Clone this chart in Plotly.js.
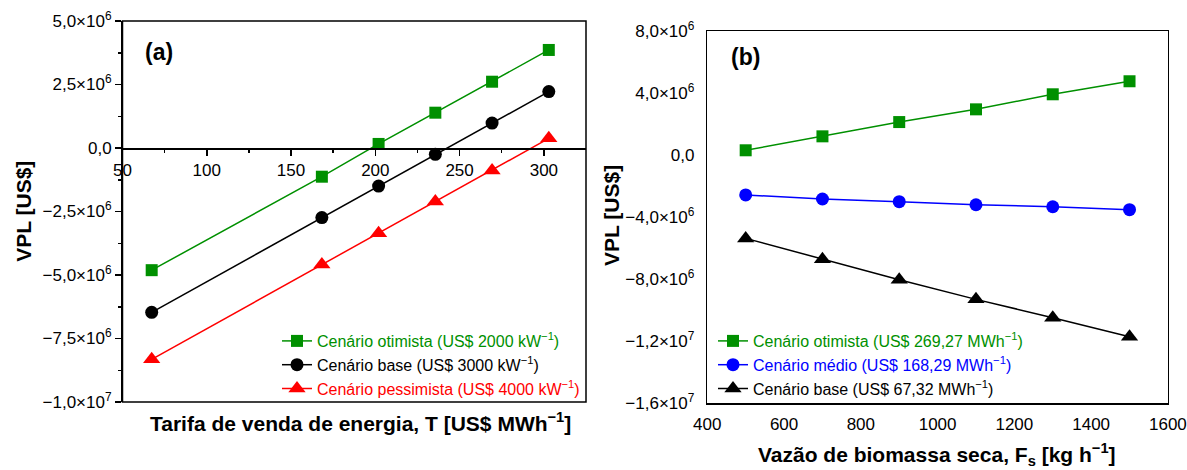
<!DOCTYPE html>
<html>
<head>
<meta charset="utf-8">
<script src="https://cdn.plot.ly/plotly-3.0.1.min.js"></script>
<style>html,body{margin:0;padding:0;background:#fff;}#chart{width:1187px;height:470px;}</style>
</head>
<body>
<div id="chart"></div>
<script>
// ---- Data: panel (a) ----
const tarifa = [67.32, 168.29, 201.95, 235.61, 269.27, 302.93];
const vplOtimistaA = [-4.81e6, -1.13e6, 0.16e6, 1.39e6, 2.61e6, 3.86e6];
const vplBaseA = [-6.47e6, -2.74e6, -1.50e6, -0.25e6, 0.98e6, 2.22e6];
const vplPessimistaA = [-8.32e6, -4.59e6, -3.36e6, -2.11e6, -0.89e6, 0.38e6];
const namesA = ["Cenário otimista (US$ 2000 kW<sup>−1</sup>)", "Cenário base (US$ 3000 kW<sup>−1</sup>)", "Cenário pessimista (US$ 4000 kW<sup>−1</sup>)"];

// ---- Data: panel (b) ----
const vazao = [500, 700, 900, 1100, 1300, 1500];
const vplOtimistaB = [0.31e6, 1.21e6, 2.13e6, 2.95e6, 3.92e6, 4.76e6];
const vplMedioB = [-2.57e6, -2.83e6, -3.00e6, -3.20e6, -3.33e6, -3.52e6];
const vplBaseB = [-5.37e6, -6.72e6, -8.03e6, -9.30e6, -10.48e6, -11.71e6];
const namesB = ["Cenário otimista (US$ 269,27 MWh<sup>−1</sup>)", "Cenário médio (US$ 168,29 MWh<sup>−1</sup>)", "Cenário base (US$ 67,32 MWh<sup>−1</sup>)"];

// ---- Ticks ----
const xTicksA = [50, 100, 150, 200, 250, 300];
const xTickTextA = ["50", "100", "150", "200", "250", "300"];
const xMinorA = [75, 125, 175, 225, 275];
const yTicksA = [-1e7, -7.5e6, -5e6, -2.5e6, 0, 2.5e6, 5e6];
const yTickTextA = ["−1,0×10<sup>7</sup>", "−7,5×10<sup>6</sup>", "−5,0×10<sup>6</sup>", "−2,5×10<sup>6</sup>", "0,0", "2,5×10<sup>6</sup>", "5,0×10<sup>6</sup>"];
const yMinorA = [-8.75e6, -6.25e6, -3.75e6, -1.25e6, 1.25e6, 3.75e6];
const xTicksB = [400, 600, 800, 1000, 1200, 1400, 1600];
const xTickTextB = ["400", "600", "800", "1000", "1200", "1400", "1600"];
const yTicksB = [-1.6e7, -1.2e7, -8e6, -4e6, 0, 4e6, 8e6];
const yTickTextB = ["−1,6×10<sup>7</sup>", "−1,2×10<sup>7</sup>", "−8,0×10<sup>6</sup>", "−4,0×10<sup>6</sup>", "0,0", "4,0×10<sup>6</sup>", "8,0×10<sup>6</sup>"];

const GREEN = "#009000", RED = "#ff0000", BLUE = "#0000ff", BLACK = "#000000";
const FONT = "Liberation Sans, Arial, sans-serif";
const W = 1187, H = 470;

function colored(name, c) { return '<span style="color:' + c + '">' + name + '</span>'; }
function tr(x, y, name, color, symbol, size, xa, ya, leg, grp) {
  return {
    x: x, y: y, type: "scatter", mode: "lines+markers",
    name: colored(name, color),
    line: {color: color, width: 1.5},
    marker: {color: color, symbol: symbol, size: size},
    xaxis: xa, yaxis: ya, legend: leg, legendgroup: grp,
    cliponaxis: false
  };
}

const data = [
  tr(tarifa, vplOtimistaA, namesA[0], GREEN, "square", 12, "x", "y", "legend", "a1"),
  tr(tarifa, vplBaseA, namesA[1], BLACK, "circle", 13, "x", "y", "legend", "a2"),
  tr(tarifa, vplPessimistaA, namesA[2], RED, "triangle-up", 15, "x", "y", "legend", "a3"),
  tr(vazao, vplOtimistaB, namesB[0], GREEN, "square", 12, "x2", "y2", "legend2", "b1"),
  tr(vazao, vplMedioB, namesB[1], BLUE, "circle", 13, "x2", "y2", "legend2", "b2"),
  tr(vazao, vplBaseB, namesB[2], BLACK, "triangle-up", 15, "x2", "y2", "legend2", "b3")
];

const yDomA = [1 - 402 / H, 1 - 21 / H];
const yRangeA = [-1e7, 5e6];
const zeroPosA = yDomA[0] + (0 - yRangeA[0]) / (yRangeA[1] - yRangeA[0]) * (yDomA[1] - yDomA[0]);

const tickFont = {family: FONT, size: 17, color: "#000"};
const layout = {
  width: W, height: H,
  margin: {l: 0, r: 0, t: 0, b: 0},
  paper_bgcolor: "#fff", plot_bgcolor: "#fff",
  showlegend: true,
  font: {family: FONT, color: "#000"},
  xaxis: {
    domain: [122.5 / W, 586 / W], range: [50, 325], anchor: "free", position: zeroPosA,
    showline: true, linecolor: "#000", linewidth: 1.5, showgrid: false, zeroline: false,
    tickmode: "array", tickvals: xTicksA, ticktext: xTickTextA,
    ticks: "outside", ticklen: 6, tickwidth: 1.5, tickcolor: "#000",
    minor: {tickmode: "array", tickvals: xMinorA, ticks: "outside", ticklen: 3, tickwidth: 1.5, tickcolor: "#000", showgrid: false},
    tickfont: tickFont
  },
  yaxis: {
    domain: yDomA, range: yRangeA, anchor: "x",
    showline: true, linecolor: "#000", linewidth: 1.5, showgrid: false, zeroline: false,
    tickmode: "array", tickvals: yTicksA, ticktext: yTickTextA,
    ticks: "outside", ticklen: 6, tickwidth: 1.5, tickcolor: "#000",
    minor: {tickmode: "array", tickvals: yMinorA, ticks: "outside", ticklen: 3, tickwidth: 1.5, tickcolor: "#000", showgrid: false},
    tickfont: tickFont
  },
  xaxis2: {
    domain: [707.3 / W, 1167.9 / W], range: [400, 1600], anchor: "y2",
    showline: true, mirror: true, linecolor: "#000", linewidth: 1.5, showgrid: false, zeroline: false,
    tickmode: "array", tickvals: xTicksB, ticktext: xTickTextB,
    ticks: "", ticklabelstandoff: 5, tickfont: tickFont
  },
  yaxis2: {
    domain: [1 - 403.3 / H, 1 - 31 / H], range: [-1.6e7, 8e6], anchor: "x2",
    showline: true, mirror: true, linecolor: "#000", linewidth: 1.5, showgrid: false, zeroline: false,
    tickmode: "array", tickvals: yTicksB, ticktext: yTickTextB,
    ticks: "", ticklabelstandoff: 8, tickfont: tickFont
  },
  shapes: [
    {type: "rect", xref: "x domain", yref: "y domain", x0: 0, x1: 1, y0: 0, y1: 1, line: {color: "#000", width: 1.5}, layer: "below"}
  ],
  legend: {
    x: 277 / W, y: 1 - 324 / H, xanchor: "left", yanchor: "top",
    bgcolor: "rgba(0,0,0,0)", font: {family: FONT, size: 16}, tracegroupgap: 0
  },
  legend2: {
    x: 713 / W, y: 1 - 324 / H, xanchor: "left", yanchor: "top",
    bgcolor: "rgba(0,0,0,0)", font: {family: FONT, size: 16}, tracegroupgap: 0
  },
  annotations: [
    {text: "Tarifa de venda de energia, T [US$ MWh<sup>−1</sup>]", xref: "paper", yref: "paper", x: 360.5 / W, y: 1 - 422 / H, xanchor: "center", yanchor: "middle", showarrow: false, font: {family: FONT, size: 21, weight: "bold"}},
    {text: "Vazão de biomassa seca, F<sub>s</sub> [kg h<sup>−1</sup>]", xref: "paper", yref: "paper", x: 937.4 / W, y: 1 - 454 / H, xanchor: "center", yanchor: "middle", showarrow: false, font: {family: FONT, size: 21, weight: "bold"}},
    {text: "VPL [US$]", xref: "paper", yref: "paper", x: 23.8 / W, y: 1 - 211 / H, xanchor: "center", yanchor: "middle", textangle: -90, showarrow: false, font: {family: FONT, size: 21, weight: "bold"}},
    {text: "VPL [US$]", xref: "paper", yref: "paper", x: 612 / W, y: 1 - 215 / H, xanchor: "center", yanchor: "middle", textangle: -90, showarrow: false, font: {family: FONT, size: 21, weight: "bold"}},
    {text: "(a)", xref: "paper", yref: "paper", x: 159 / W, y: 1 - 51.7 / H, xanchor: "center", yanchor: "middle", showarrow: false, font: {family: FONT, size: 23, weight: "bold"}},
    {text: "(b)", xref: "paper", yref: "paper", x: 745 / W, y: 1 - 56.7 / H, xanchor: "center", yanchor: "middle", showarrow: false, font: {family: FONT, size: 23, weight: "bold"}}
  ]
};

Plotly.newPlot("chart", data, layout, {staticPlot: true, displayModeBar: false});
</script>
</body>
</html>
